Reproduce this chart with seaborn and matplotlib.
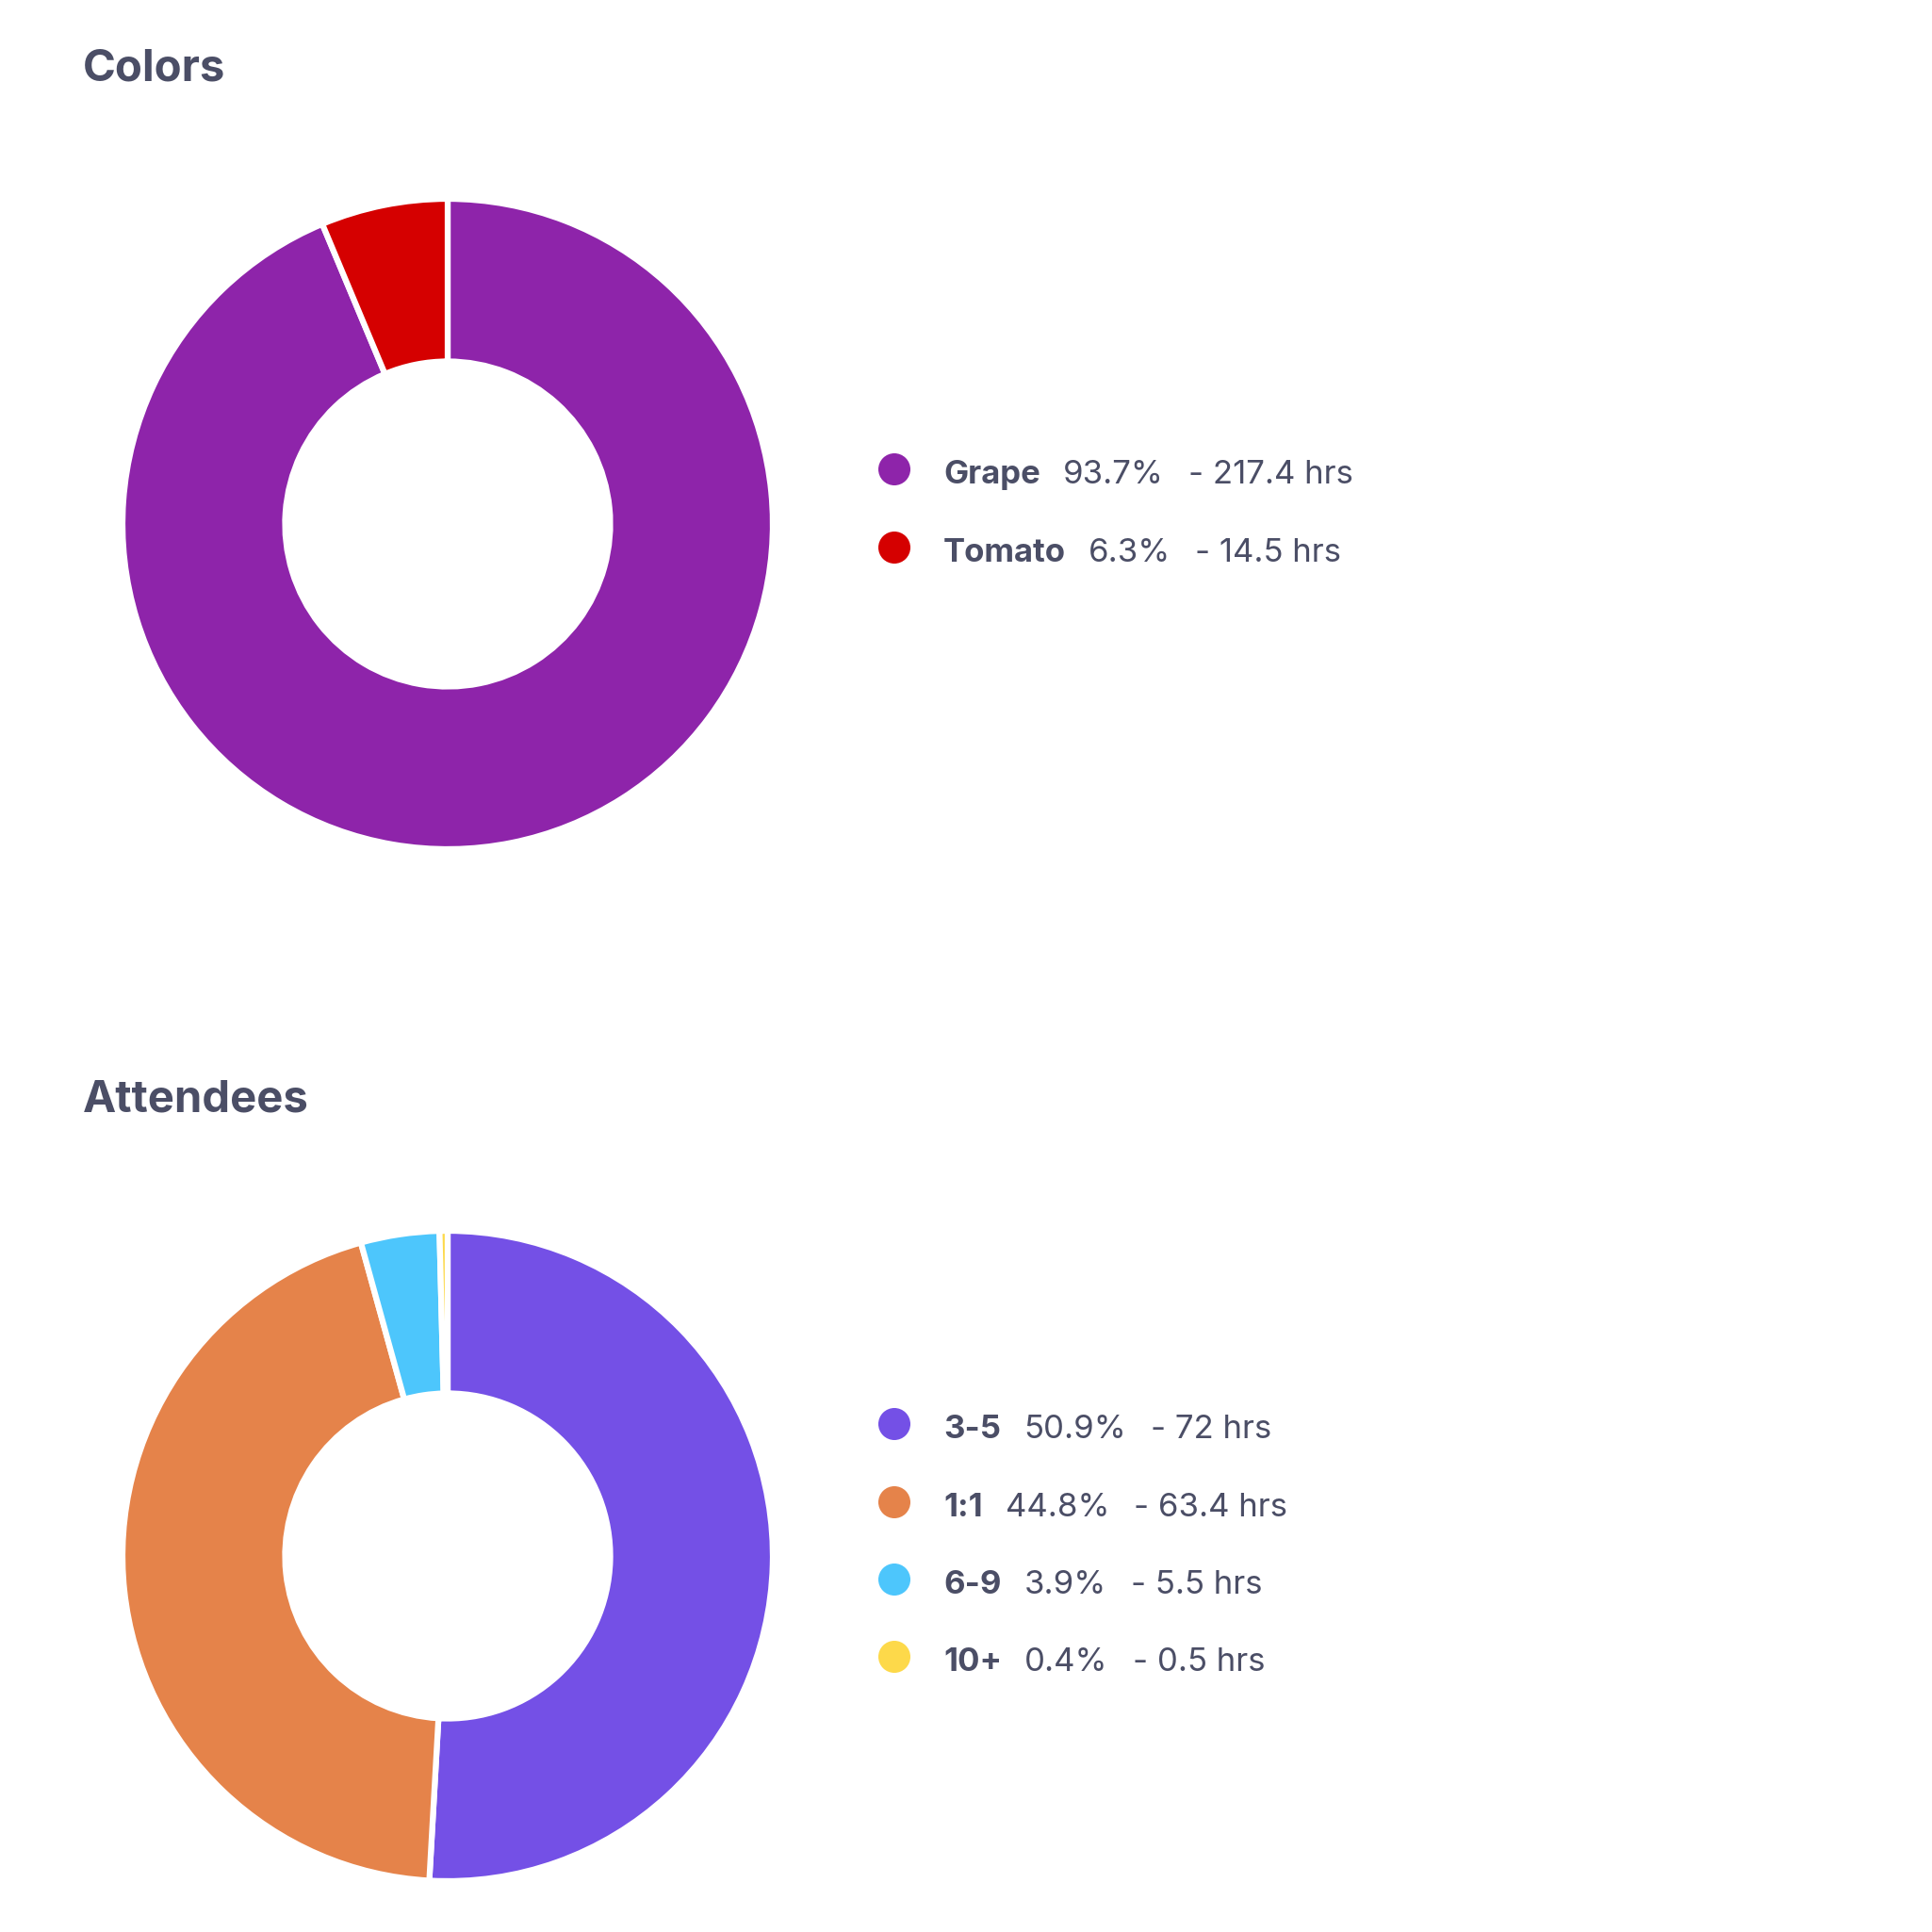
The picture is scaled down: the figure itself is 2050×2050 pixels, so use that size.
import matplotlib
matplotlib.use("Agg")
import matplotlib.pyplot as plt
import seaborn as sns
import pandas as pd

# data
color_labels = ["Grape", "Tomato"]
color_pct = [93.7, 6.3]
color_hrs = [217.4, 14.5]
color_colors = ["#8e24aa", "#d50000"]

att_labels = ["3-5", "1:1", "6-9", "10+"]
att_pct = [50.9, 44.8, 3.9, 0.4]
att_hrs = [72, 63.4, 5.5, 0.5]
att_colors = ["#7450e6", "#e5834a", "#4dc6fc", "#fdd94a"]

txt_color = "#4b4e66"
W = 2050

sns.set_theme(style="white")
plt.rcParams['font.family'] = ['Inter', 'DejaVu Sans']

fig = plt.figure(figsize=(20.5, 20.5), dpi=100)
fig.patch.set_facecolor("white")

# overlay axes in pixel coords for titles + legends
ov = fig.add_axes([0, 0, 1, 1])
ov.set_xlim(0, W)
ov.set_ylim(W, 0)
ov.axis("off")

R = 345
def donut(cx, cy, vals, cols):
    ax = fig.add_axes([(cx - R) / W, (W - cy - R) / W, 2 * R / W, 2 * R / W])
    ax.pie(vals, colors=cols, startangle=90, counterclock=False,
           wedgeprops=dict(width=0.5, edgecolor="white", linewidth=4.5))
    ax.set_xlim(-1, 1)
    ax.set_ylim(-1, 1)
    ax.set_aspect("equal")
    ax.axis("off")
    return ax

donut(475, 556, color_pct, color_colors)
donut(475, 1651, att_pct, att_colors)

ov.text(88, 74, "Colors", fontsize=34, fontweight="bold", color=txt_color, va="center")
ov.text(88, 1168, "Attendees", fontsize=34, fontweight="bold", color=txt_color, va="center")

renderer = fig.canvas.get_renderer()

def legend(ys, labels, pcts, hrs, cols):
    df = pd.DataFrame({"x": [949] * len(ys), "y": ys, "lab": labels})
    sns.scatterplot(data=df, x="x", y="y", hue="lab", palette=cols, s=600,
                    linewidth=0, legend=False, ax=ov)
    for y, lab, p, h in zip(ys, labels, pcts, hrs):
        x = 1001
        base = y + 15
        t = ov.text(x, base, lab, fontsize=25, fontweight="bold", color=txt_color, va="baseline")
        x = t.get_window_extent(renderer).x1 + 24
        t = ov.text(x, base, f"{p}%", fontsize=25, color=txt_color, va="baseline")
        x = t.get_window_extent(renderer).x1 + 26
        ov.text(x, base, f"- {h:g} hrs", fontsize=25, color=txt_color, va="baseline")

legend([498, 581], color_labels, color_pct, color_hrs, color_colors)
legend([1511, 1594, 1676, 1758], att_labels, att_pct, att_hrs, att_colors)
ov.set_xlim(0, W)
ov.set_ylim(W, 0)
ov.set_xlabel("")
ov.set_ylabel("")

fig.savefig("out.png", dpi=100, facecolor="white")
